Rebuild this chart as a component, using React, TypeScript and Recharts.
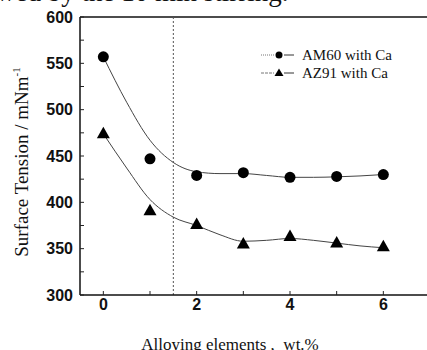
import { ComposedChart, Line, Scatter, XAxis, YAxis, ReferenceLine, Legend } from "recharts"

// measured points
const xValues = [0, 1, 2, 3, 4, 5, 6]
const am60 = [557, 447, 429, 432, 427, 428, 430]
const az91 = [474, 391, 376, 355, 363, 356, 352]

// fitted curves
const fitX = [0, 0.5, 1, 1.5, 2, 2.5, 3, 3.5, 4, 4.5, 5, 5.5, 6]
const am60Fit = [557, 508, 467, 443, 433, 431, 431, 429, 427, 427, 427.5, 428.5, 430]
const az91Fit = [474, 437, 403, 384, 375, 365, 358, 359, 361, 359, 356, 353, 351]

const yTicks = [300, 325, 350, 375, 400, 425, 450, 475, 500, 525, 550, 575, 600]
const xTicks = [0, 1, 2, 3, 4, 5, 6]
const legendNames = ["AM60 with Ca", "AZ91 with Ca"]

const am60Points = xValues.map((x, i) => ({ x, y: am60[i] }))
const az91Points = xValues.map((x, i) => ({ x, y: az91[i] }))
const am60Curve = fitX.map((x, i) => ({ x, y: am60Fit[i] }))
const az91Curve = fitX.map((x, i) => ({ x, y: az91Fit[i] }))

const serif = '"Liberation Serif", "Times New Roman", serif'
const sans = '"Liberation Sans", Arial, sans-serif'

const Dot = (p: any) => <circle cx={p.cx} cy={p.cy} r={5.5} fill="#000" />
const Tri = (p: any) => (
  <polygon
    points={`${p.cx},${p.cy - 7} ${p.cx - 6.5},${p.cy + 4.5} ${p.cx + 6.5},${p.cy + 4.5}`}
    fill="#000"
  />
)

const renderLegend = () => (
  <div style={{ fontFamily: serif, fontSize: 15, color: "#111" }}>
    {legendNames.map((name, i) => (
      <div key={name} style={{ display: "flex", alignItems: "center", height: 18 }}>
        <svg width={36} height={18} style={{ marginRight: 5 }}>
          <line x1={0} y1={9} x2={13} y2={9} stroke="#777" strokeWidth={1} strokeDasharray={i === 0 ? "1 1" : "3 1"} />
          <line x1={23} y1={9} x2={33} y2={9} stroke="#333" strokeWidth={1} />
          {i === 0 ? (
            <circle cx={18} cy={9} r={3.5} fill="#000" />
          ) : (
            <polygon points="18,4.5 13.5,12 22.5,12" fill="#000" />
          )}
        </svg>
        <span>{name}</span>
      </div>
    ))}
  </div>
)

export default function App() {
  return (
    <div style={{ position: "absolute", left: 0, top: 0, width: 427, height: 350, overflow: "hidden", background: "#fff" }}>
      <div
        style={{
          position: "absolute",
          top: -21,
          left: -4,
          fontFamily: serif,
          fontSize: 27,
          lineHeight: "27px",
          whiteSpace: "nowrap",
          color: "#111",
        }}
      >
        wed by the 10 min stirring.
      </div>
      <ComposedChart width={430} height={350} margin={{ top: 17, right: 0, left: 0, bottom: 25 }}>
        <XAxis
          type="number"
          dataKey="x"
          domain={[-0.5, 7]}
          ticks={xTicks}
          tickFormatter={(v: number) => (v % 2 === 0 ? String(v) : "")}
          tickSize={-4}
          tickMargin={8}
          height={30}
          tick={{ fill: "#111", fontFamily: sans, fontWeight: 700, fontSize: 16 }}
          axisLine={{ stroke: "#111", strokeWidth: 1.5 }}
          tickLine={{ stroke: "#222" }}
          allowDataOverflow
          label={() => (
            <text x={230} y={350} textAnchor="middle" fontFamily={serif} fontSize={17} fill="#111" style={{ whiteSpace: "pre" }}>
              {"Alloying elements ,  wt.%"}
            </text>
          )}
        />
        <YAxis
          type="number"
          dataKey="y"
          domain={[300, 600]}
          ticks={yTicks}
          tickFormatter={(v: number) => (v % 50 === 0 ? String(v) : "")}
          tickSize={-4}
          tickMargin={11}
          width={80}
          tick={{ fill: "#111", fontFamily: sans, fontWeight: 700, fontSize: 16 }}
          axisLine={{ stroke: "#111", strokeWidth: 1.5 }}
          tickLine={{ stroke: "#222" }}
          label={() => (
            <text x={28} y={162} transform="rotate(-90 28 162)" textAnchor="middle" fontFamily={serif} fontSize={19} fill="#111">
              Surface Tension / mNm
              <tspan fontSize={11} dy={-8}>-1</tspan>
            </text>
          )}
        />
        <ReferenceLine y={600} stroke="#111" strokeWidth={1.5} />
        <ReferenceLine x={1.5} stroke="#555" strokeDasharray="2 2" />
        <Line data={am60Curve} dataKey="y" type="monotone" stroke="#444" strokeWidth={1} dot={false} isAnimationActive={false} />
        <Line data={az91Curve} dataKey="y" type="monotone" stroke="#444" strokeWidth={1} dot={false} isAnimationActive={false} />
        <Scatter data={am60Points} dataKey="y" shape={Dot} isAnimationActive={false} />
        <Scatter data={az91Points} dataKey="y" shape={Tri} isAnimationActive={false} />
        <Legend
          layout="vertical"
          align="center"
          verticalAlign="middle"
          content={renderLegend}
          wrapperStyle={{ top: 46, left: 261, width: 160 }}
        />
      </ComposedChart>
    </div>
  )
}
